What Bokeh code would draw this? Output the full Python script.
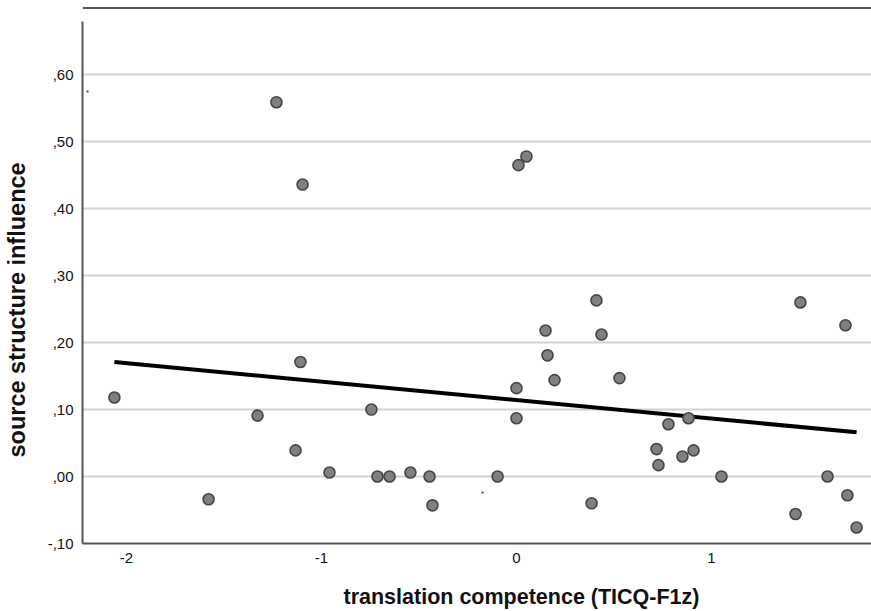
import numpy as np
from bokeh.plotting import figure
from bokeh.models import FixedTicker, Span, Title, ColumnDataSource, LinearAxis
from bokeh.embed import file_html
from bokeh.resources import INLINE

# ---- data ----
tc_x = [-2.062, -1.579, -1.328, -1.231, -1.097, -1.108, -1.133, -0.959, -0.744,
        -0.713, -0.651, -0.544, -0.446, -0.431, -0.097, 0.000, 0.000, 0.010,
        0.051, 0.149, 0.159, 0.195, 0.385, 0.410, 0.436, 0.528, 0.718, 0.728,
        0.779, 0.851, 0.882, 0.908, 1.051, 1.431, 1.456, 1.595, 1.687, 1.697, 1.744]
ssi_y = [0.118, -0.034, 0.091, 0.559, 0.436, 0.171, 0.039, 0.006, 0.100,
         0.000, 0.000, 0.006, 0.000, -0.043, 0.000, 0.132, 0.087, 0.465,
         0.478, 0.218, 0.181, 0.144, -0.040, 0.263, 0.212, 0.147, 0.041, 0.017,
         0.078, 0.030, 0.087, 0.039, 0.000, -0.056, 0.260, 0.000, 0.226, -0.028, -0.076]

fit_x = [-2.062, 1.744]
fit_y = [0.171, 0.066]

stray_x = [-2.20, -0.174]
stray_y = [0.575, -0.024]

x_ticks = [-2, -1, 0, 1]
x_tick_labels = ["-2", "-1", "0", "1"]
y_ticks = [-0.1, 0.0, 0.1, 0.2, 0.3, 0.4, 0.5, 0.6]
y_tick_labels = ["-,10", ",00", ",10", ",20", ",30", ",40", ",50", ",60"]

x_title = "translation competence (TICQ-F1z)"
y_title = "source structure influence"

FONT = "Liberation Sans"

p = figure(width=871, height=611, x_range=(-2.2256, 1.8205), y_range=(-0.1, 0.7019),
           output_backend="svg", toolbar_location=None,
           min_border_left=82, min_border_right=0, min_border_top=6, min_border_bottom=68)
p.outline_line_color = None
p.background_fill_color = "white"
p.border_fill_color = "white"

# grid
p.xgrid.grid_line_color = None
p.ygrid.ticker = FixedTicker(ticks=y_ticks)
p.ygrid.grid_line_color = "#d2d2d2"
p.ygrid.grid_line_width = 2

# axes
for ax in (p.xaxis[0], p.yaxis[0]):
    ax.axis_line_color = "#555555"
    ax.axis_line_width = 2
    ax.major_tick_line_color = None
    ax.minor_tick_line_color = None
    ax.major_tick_out = 0
    ax.major_tick_in = 0
    ax.minor_tick_out = 0
    ax.minor_tick_in = 0
    ax.major_label_text_font = FONT
    ax.major_label_text_font_size = "15px"
    ax.major_label_text_color = "#111111"

p.xaxis.ticker = FixedTicker(ticks=x_ticks)
p.xaxis.major_label_overrides = dict(zip(x_ticks, x_tick_labels))
p.xaxis.major_label_standoff = 9
p.yaxis.ticker = FixedTicker(ticks=y_ticks)
p.yaxis.major_label_overrides = dict(zip(y_ticks, y_tick_labels))
p.yaxis.major_label_standoff = 9
p.yaxis.bounds = (-0.1, 0.68)

# top border line
p.add_layout(Span(location=0.6997, dimension="width", line_color="#555555", line_width=2))

# data
src = ColumnDataSource(dict(x=tc_x, y=ssi_y))
p.line(fit_x, fit_y, line_color="black", line_width=4)
p.scatter("x", "y", source=src, size=11, fill_color="#808080", line_color="#454545",
          line_width=1.6)
p.scatter(stray_x, stray_y, size=2, marker="square", fill_color="#3b3bff", line_color=None)


# invisible axes (one hidden tick, no label) used only as spacing before the titles
def spacer(n):
    return LinearAxis(ticker=FixedTicker(ticks=[0], minor_ticks=[]), axis_line_color=None,
                      major_tick_line_color=None, minor_tick_line_color=None,
                      major_tick_out=n, major_tick_in=0, minor_tick_out=0, minor_tick_in=0,
                      major_label_standoff=0, major_label_overrides={0: ""},
                      major_label_text_font_size="0px")


p.add_layout(spacer(17), "below")
p.add_layout(spacer(15), "left")

# axis titles
p.add_layout(Title(text=x_title, align="left", offset=261, standoff=0,
                   text_font=FONT, text_font_size="21.5px", text_font_style="bold",
                   text_color="#111111"), "below")
p.add_layout(Title(text=y_title, align="left", offset=86, standoff=0,
                   text_font=FONT, text_font_size="23.5px", text_font_style="bold",
                   text_color="#111111"), "left")

open("out.html", "w").write(file_html(p, INLINE))
